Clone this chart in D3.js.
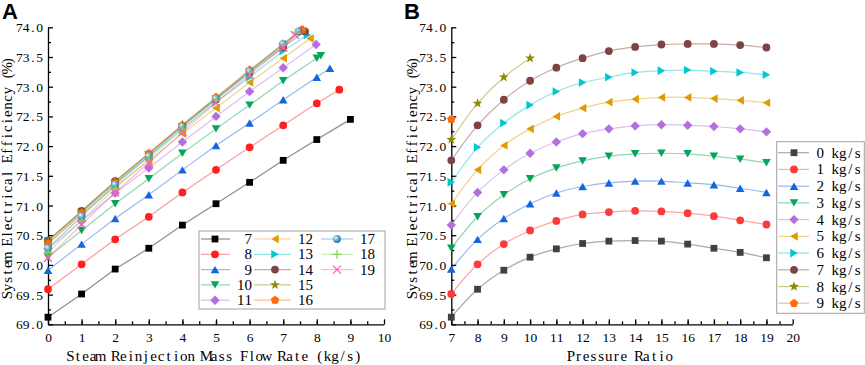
<!DOCTYPE html>
<html>
<head>
<meta charset="utf-8">
<script src="https://cdn.jsdelivr.net/npm/d3@7"></script>
<style>
  body { margin: 0; background: #fff; }
  svg { display: block; }
  .serif { font-family: "Liberation Serif", "DejaVu Serif", serif; fill: #000; }
</style>
</head>
<body>
<div id="chart"></div>
<script>
// ---- data ----
const pressureRatios = [7, 8, 9, 10, 11, 12, 13, 14, 15, 16, 17, 18, 19];
const flowRates = [0, 1, 2, 3, 4, 5, 6, 7, 8, 9];

// efficiency (%) per flow rate, indexed by pressure ratio 7..19
const eff0 = [69.12, 69.59, 69.91, 70.13, 70.27, 70.36, 70.40, 70.41, 70.40, 70.35, 70.28, 70.21, 70.12];
const eff1 = [69.51, 70.01, 70.35, 70.58, 70.74, 70.85, 70.89, 70.91, 70.90, 70.87, 70.82, 70.75, 70.68];
const eff2 = [69.93, 70.43, 70.78, 71.03, 71.21, 71.32, 71.38, 71.41, 71.41, 71.38, 71.35, 71.29, 71.22];
const eff3 = [70.28, 70.81, 71.18, 71.45, 71.63, 71.75, 71.83, 71.87, 71.88, 71.87, 71.83, 71.78, 71.72];
const eff4 = [70.67, 71.22, 71.60, 71.88, 72.07, 72.21, 72.29, 72.34, 72.36, 72.35, 72.33, 72.29, 72.24];
const eff5 = [71.03, 71.60, 72.01, 72.29, 72.50, 72.64, 72.74, 72.79, 72.82, 72.82, 72.80, 72.77, 72.73];
const eff6 = [71.39, 71.98, 72.39, 72.69, 72.92, 73.07, 73.16, 73.24, 73.27, 73.28, 73.26, 73.24, 73.20];
const eff7 = [71.76, 72.35, 72.78, 73.10, 73.32, 73.48, 73.60, 73.67, 73.71, 73.72, 73.72, 73.70, 73.66];
const eff8 = [72.11, 72.72, 73.16, 73.48];
const eff9 = [72.45];
const effByFlow = [eff0, eff1, eff2, eff3, eff4, eff5, eff6, eff7, eff8, eff9];

// max reinjection flow for each pressure ratio (end point of panel A lines)
const maxFlow    = [null, 8.67, 8.39, 8.12, 7.98, 7.80, 7.72, 7.65, 7.60, 7.55, 7.45, 7.40, 7.35];
const maxFlowEff = [null, 72.95, 73.31, 73.52, 73.71, 73.81, 73.87, 73.93, 73.95, 73.96, 73.93, 73.90, 73.87];

const xTicksA = d3.range(0, 11);
const xTicksB = d3.range(7, 21);
const yTicks = d3.range(69, 74.01, 0.5);

// ---- styles ----
const colorsA = ['#000000', '#ff1f1f', '#1565e0', '#06a55a', '#b56ee0', '#e09b00', '#00c8d0',
                 '#7e4343', '#8c8c00', '#ff6a10', '#3b8fce', '#7fd45a', '#ff5fb0'];
const shapesA = ['square', 'circle', 'up', 'down', 'diamond', 'left', 'right',
                 'circle', 'star', 'pentagon', 'sphere', 'plus', 'times'];
const colorsB = ['#404040', '#ff3a3a', '#1565e0', '#06a55a', '#b56ee0', '#e09b00', '#00c8d0',
                 '#7e4343', '#8c8c00', '#ff6a10'];
const shapesB = shapesA.slice(0, 10);

const W = 865, H = 365;
const yTop = 27.3, yBot = 324.3;

const svg = d3.select("#chart").append("svg").attr("width", W).attr("height", H);

const defs = svg.append("defs");
const grad = defs.append("radialGradient").attr("id", "sphere")
  .attr("cx", "35%").attr("cy", "35%").attr("r", "65%");
grad.append("stop").attr("offset", "0%").attr("stop-color", "#ffffff");
grad.append("stop").attr("offset", "45%").attr("stop-color", "#6fb2e0");
grad.append("stop").attr("offset", "100%").attr("stop-color", "#2a6fa8");

// fixed-pitch serif text: every character centred in its own cell
function monoText(sel, str, x, cell, align) {
  str = String(str);
  const n = str.length, total = n * cell;
  const left = align === "start" ? x : align === "middle" ? x - total / 2 : x - total;
  const xs = d3.range(n).map(i => (left + cell * (i + 0.5)).toFixed(2));
  return sel.text(str).attr("x", xs.join(" ")).attr("text-anchor", "middle");
}

// marker path generator
function markerPath(type) {
  const p = d3.path();
  const poly = pts => { pts.forEach((q, i) => i ? p.lineTo(q[0], q[1]) : p.moveTo(q[0], q[1])); p.closePath(); };
  const tri = (rot) => {
    const s = 8.6, h = s * 0.866;
    let pts = [[0, -h / 2], [s / 2, h / 2], [-s / 2, h / 2]];
    const c = Math.cos(rot), sn = Math.sin(rot);
    poly(pts.map(([x, y]) => [x * c - y * sn, x * sn + y * c]));
  };
  switch (type) {
    case 'square': poly([[-3.4, -3.4], [3.4, -3.4], [3.4, 3.4], [-3.4, 3.4]]); break;
    case 'circle': case 'sphere': p.arc(0, 0, 3.9, 0, 2 * Math.PI); break;
    case 'up': tri(0); break;
    case 'down': tri(Math.PI); break;
    case 'left': tri(-Math.PI / 2); break;
    case 'right': tri(Math.PI / 2); break;
    case 'diamond': poly([[0, -4.7], [4.7, 0], [0, 4.7], [-4.7, 0]]); break;
    case 'star': poly(d3.range(10).map(i => {
        const r = i % 2 ? 2.1 : 5.2, a = i * Math.PI / 5 - Math.PI / 2;
        return [r * Math.cos(a), r * Math.sin(a)];
      })); break;
    case 'pentagon': poly(d3.range(5).map(i => {
        const a = i * 2 * Math.PI / 5 - Math.PI / 2;
        return [4.5 * Math.cos(a), 4.5 * Math.sin(a)];
      })); break;
    case 'plus': p.moveTo(-4.5, 0); p.lineTo(4.5, 0); p.moveTo(0, -4.5); p.lineTo(0, 4.5); break;
    case 'times': p.moveTo(-4, -4); p.lineTo(4, 4); p.moveTo(4, -4); p.lineTo(-4, 4); break;
  }
  return p.toString();
}

function drawMarker(sel, type, color) {
  const stroked = type === 'plus' || type === 'times';
  sel.append("path")
    .attr("d", markerPath(type))
    .attr("fill", stroked ? "none" : (type === 'sphere' ? "url(#sphere)" : color))
    .attr("stroke", stroked ? color : "none")
    .attr("stroke-width", stroked ? 1.3 : 0);
}

// axes helper
function drawAxes(g, x, y, xTicks, xMinor, left, titleX, titleY, yTitleX) {
  const yMinor = d3.range(69.25, 74, 0.5);
  g.append("g").attr("transform", `translate(${left},0)`)
    .call(d3.axisLeft(y).tickValues(yMinor).tickSize(-3).tickFormat("").tickSizeOuter(0))
    .call(a => a.select(".domain").remove());
  g.append("g").attr("transform", `translate(${left},0)`)
    .call(d3.axisLeft(y).tickValues(yTicks).tickSize(-5).tickFormat(d3.format(".1f")).tickSizeOuter(0))
    .call(a => a.selectAll("text").attr("class", "serif").style("font-size", "13.5px")
      .attr("dy", "0.34em")
      .each(function (d) { monoText(d3.select(this), d3.format(".1f")(d), -5, 6.75, "end"); }));
  g.append("g").attr("transform", `translate(0,${yBot})`)
    .call(d3.axisBottom(x).tickValues(xMinor).tickSize(-3).tickFormat("").tickSizeOuter(0))
    .call(a => a.select(".domain").remove());
  g.append("g").attr("transform", `translate(0,${yBot})`)
    .call(d3.axisBottom(x).tickValues(xTicks).tickSize(-5).tickSizeOuter(0))
    .call(a => a.selectAll("text").attr("class", "serif").style("font-size", "13.5px")
      .attr("y", 18).attr("dy", 0)
      .each(function (d) { monoText(d3.select(this), d, 0, 6.75, "middle"); }));
  g.selectAll(".domain, .tick line").attr("stroke", "#000").attr("stroke-width", 1.3);

  monoText(g.append("text").attr("class", "serif").attr("y", 361).style("font-size", "15px"),
    titleX, (x.range()[0] + x.range()[1]) / 2 - 2, 7.56, "middle");
  const ty = g.append("g").attr("transform", `translate(${yTitleX},${(yTop + yBot) / 2 + 2}) rotate(-90)`);
  monoText(ty.append("text").attr("class", "serif").attr("y", 5).style("font-size", "15px"),
    titleY, 0, 7.56, "middle");
}

const yScale = d3.scaleLinear().domain([69, 74]).range([yBot, yTop]);

// ---------- Panel A ----------
const xA = d3.scaleLinear().domain([0, 10]).range([48, 384]);
const gA = svg.append("g");
drawAxes(gA, xA, yScale, xTicksA, d3.range(0.5, 10, 0.5), 48,
  "Steam Reinjection Mass Flow Rate (kg/s)", "System Electrical Efficiency (%)", 7);

const seriesA = pressureRatios.map((pr, i) => {
  const pts = [];
  effByFlow.forEach((arr, m) => { if (arr[i] !== undefined) pts.push({ x: flowRates[m], y: arr[i] }); });
  if (maxFlow[i] !== null) pts.push({ x: maxFlow[i], y: maxFlowEff[i] });
  return { pr, pts, color: colorsA[i], shape: shapesA[i] };
});

const lineA = d3.line().x(d => xA(d.x)).y(d => yScale(d.y));
seriesA.forEach(s => {
  const g = gA.append("g");
  g.append("path").attr("d", lineA(s.pts)).attr("fill", "none")
    .attr("stroke", s.color).attr("stroke-opacity", 0.45).attr("stroke-width", 1.2);
  s.pts.forEach(p => {
    const mg = g.append("g").attr("transform", `translate(${xA(p.x)},${yScale(p.y)})`);
    drawMarker(mg, s.shape, s.color);
  });
});

// legend A
const legA = gA.append("g");
legA.append("rect").attr("x", 199).attr("y", 231).attr("width", 186).attr("height", 78)
  .attr("fill", "#fff").attr("stroke", "#a0a0a0").attr("stroke-width", 1);
const legColsA = [{ x1: 201, x2: 230, m: 215, t: 252 }, { x1: 254, x2: 291, m: 275, t: 313 }, { x1: 321, x2: 353, m: 337, t: 375 }];
seriesA.forEach((s, i) => {
  const col = legColsA[Math.floor(i / 5)], row = i % 5;
  const y = 239 + row * 15.3;
  legA.append("line").attr("x1", col.x1).attr("x2", col.x2).attr("y1", y).attr("y2", y)
    .attr("stroke", s.color).attr("stroke-opacity", 0.45).attr("stroke-width", 1.2);
  drawMarker(legA.append("g").attr("transform", `translate(${col.m},${y})`), s.shape, s.color);
  monoText(legA.append("text").attr("class", "serif").attr("y", y + 5).style("font-size", "15px"),
    s.pr, col.t, 7.5, "end");
});

// ---------- Panel B ----------
const xB = d3.scaleLinear().domain([7, 20]).range([451.3, 792.7]);
const gB = svg.append("g");
drawAxes(gB, xB, yScale, xTicksB, d3.range(7.5, 20, 0.5), 451.3,
  "Pressure Ratio", "System Electrical Efficiency (%)", 412);

const lineB = d3.line().x(d => xB(d.x)).y(d => yScale(d.y)).curve(d3.curveCatmullRom.alpha(0.5));
const seriesB = flowRates.map((m, k) => ({
  m, color: colorsB[k], shape: shapesB[k],
  pts: effByFlow[k].map((v, i) => ({ x: pressureRatios[i], y: v }))
}));
seriesB.forEach(s => {
  const g = gB.append("g");
  if (s.pts.length > 1)
    g.append("path").attr("d", lineB(s.pts)).attr("fill", "none")
      .attr("stroke", s.color).attr("stroke-opacity", 0.45).attr("stroke-width", 1.2);
  s.pts.forEach(p => {
    drawMarker(g.append("g").attr("transform", `translate(${xB(p.x)},${yScale(p.y)})`), s.shape, s.color);
  });
});

// legend B
const legB = gB.append("g");
legB.append("rect").attr("x", 776.7).attr("y", 141.7).attr("width", 87.6).attr("height", 171.6)
  .attr("fill", "#fff").attr("stroke", "#a0a0a0").attr("stroke-width", 1);
seriesB.forEach((s, i) => {
  const y = 152.7 + i * 16.73;
  legB.append("line").attr("x1", 778).attr("x2", 809).attr("y1", y).attr("y2", y)
    .attr("stroke", s.color).attr("stroke-opacity", 0.45).attr("stroke-width", 1.2);
  drawMarker(legB.append("g").attr("transform", `translate(794,${y})`), s.shape, s.color);
  monoText(legB.append("text").attr("class", "serif").attr("y", y + 5).style("font-size", "15px"),
    `${s.m} kg/s`, 816.5, 7.5, "start");
});

// panel labels
svg.append("text").attr("x", 2).attr("y", 19).text("A")
  .style("font-family", "Liberation Sans, Arial, sans-serif").style("font-weight", "bold").style("font-size", "22px");
svg.append("text").attr("x", 404).attr("y", 19).text("B")
  .style("font-family", "Liberation Sans, Arial, sans-serif").style("font-weight", "bold").style("font-size", "22px");
</script>
</body>
</html>
